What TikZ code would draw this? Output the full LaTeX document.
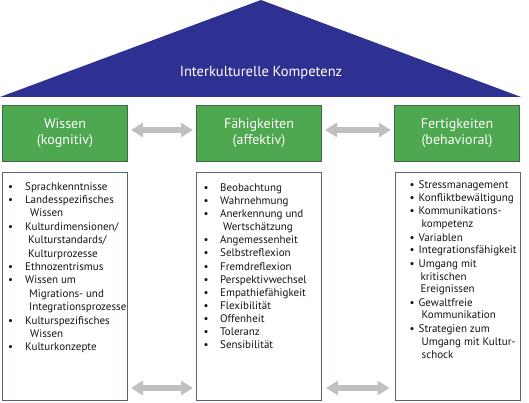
\documentclass[tikz,border=0pt]{standalone}
\usepackage{fontspec}
\setmainfont{PT Sans}
\usetikzlibrary{arrows.meta}
\definecolor{roofblue}{HTML}{2E3192}
\definecolor{hdrgreen}{HTML}{4DA84F}
\definecolor{hdrborder}{HTML}{3D6B47}
\definecolor{lstborder}{HTML}{56637A}
\definecolor{arrowgray}{HTML}{C0C0C0}
\definecolor{textdark}{HTML}{141414}
\tikzset{
  roof/.style={fill=roofblue},
  titletext/.style={text=white, inner sep=0pt, font=\fontsize{14.5}{17}\selectfont},
  hdr/.style={draw=hdrborder, line width=1pt, fill=hdrgreen, text=white,
    minimum width=125pt, minimum height=56pt, align=center, inner sep=0pt,
    font=\fontsize{14}{16}\selectfont},
  lst/.style={draw=lstborder, line width=1pt, fill=white,
    minimum width=125pt, minimum height=228pt, inner sep=0pt},
  items/.style={anchor=base west, inner sep=0pt, text=textdark},
  garrow/.style={draw=arrowgray, line width=6pt,
    {Triangle[width=14pt,length=12pt]}-{Triangle[width=14pt,length=12pt]}}
}
\newcommand\bl{\textbullet}
\begin{document}
\begin{tikzpicture}[x=1pt,y=-1pt]
\useasboundingbox (0,0) rectangle (529,403);
% roof
\fill[roof] (0,97) -- (261,0) -- (521,97) -- cycle;
\node[titletext] (title) at (261,73) {Interkulturelle Kompetenz};
% headers
\node[hdr] (h1) at (65,133.5) {Wissen\\(kognitiv)};
\node[hdr] (h2) at (259,133.5) {Fähigkeiten\\(affektiv)};
\node[hdr] (h3) at (457,133.5) {Fertigkeiten\\(behavioral)};
% list boxes
\node[lst] (l1) at (65,286.5) {};
\node[lst] (l2) at (259,286.5) {};
\node[lst] (l3) at (457.5,286.5) {};
% lists
\node[items, font=\fontsize{11}{13.4}\selectfont] (t1) at (8,190) {%
\begin{tabular}[t]{@{}p{17pt}@{}l@{}}
\bl & Sprachkenntnisse\\
\bl & Landesspezifisches\\
    & \hspace{5pt}Wissen\\
\bl & Kulturdimensionen/\\
    & \hspace{3pt}Kulturstandards/\\
    & \hspace{3pt}Kulturprozesse\\
\bl & Ethnozentrismus\\
\bl & Wissen um\\
    & \hspace{4pt}Migrations- und\\
    & \hspace{4pt}Integrationsprozesse\\
\bl & Kulturspezifisches\\
    & \hspace{5pt}Wissen\\
\bl & Kulturkonzepte
\end{tabular}};
\node[items, font=\fontsize{11}{13.1}\selectfont] (t2) at (203.5,191.5) {%
\begin{tabular}[t]{@{}p{16.5pt}@{}l@{}}
\bl & Beobachtung\\
\bl & Wahrnehmung\\
\bl & Anerkennung und\\
    & \hspace{3pt}Wertschätzung\\
\bl & Angemessenheit\\
\bl & Selbstreflexion\\
\bl & Fremdreflexion\\
\bl & Perspektivwechsel\\
\bl & Empathiefähigkeit\\
\bl & Flexibilität\\
\bl & Offenheit\\
\bl & Toleranz\\
\bl & Sensibilität
\end{tabular}};
\node[items, font=\fontsize{11}{13.0}\selectfont] (t3) at (409.5,189) {%
\begin{tabular}[t]{@{}p{9pt}@{}l@{}}
\bl & Stressmanagement\\
\bl & Konfliktbewältigung\\
\bl & Kommunikations-\\
    & \hspace{3pt}kompetenz\\
\bl & Variablen\\
\bl & Integrationsfähigkeit\\
\bl & Umgang mit\\
    & \hspace{2pt}kritischen\\
    & \hspace{2pt}Ereignissen\\
\bl & Gewaltfreie\\
    & \hspace{3pt}Kommunikation\\
\bl & Strategien zum\\
    & \hspace{3pt}Umgang mit Kultur-\\
    & \hspace{3pt}schock
\end{tabular}};
% arrows
\draw[garrow] ([shift={(3,-3.5)}]h1.east) -- ([shift={(-3,-3.5)}]h2.west);
\draw[garrow] ([shift={(3,-3.5)}]h2.east) -- ([shift={(-3,-3.5)}]h3.west);
\draw[garrow] ([shift={(3,101.5)}]l1.east) -- ([shift={(-3,101.5)}]l2.west);
\draw[garrow] ([shift={(4,101.5)}]l2.east) -- ([shift={(-5,101.5)}]l3.west);
\end{tikzpicture}
\end{document}
